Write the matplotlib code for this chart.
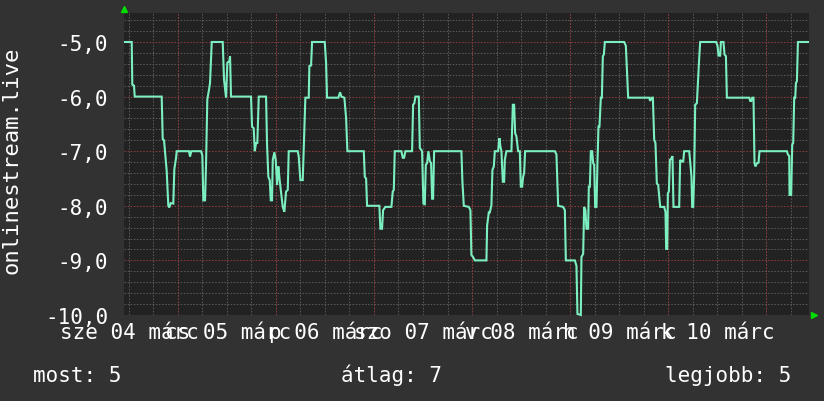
import matplotlib
matplotlib.use("Agg")
import matplotlib.pyplot as plt
import matplotlib.transforms as mtransforms
import numpy as np

# hours since graph start, value
hours = [
    0.24, 1.89, 2.03, 2.45, 2.62, 9.23, 9.48, 9.80, 10.04, 10.46, 10.85, 11.09, 11.44, 12.07,
    12.32, 12.73, 12.91, 15.92, 16.16, 16.48, 18.86, 19.18, 19.42, 19.84, 20.08, 20.40, 20.82,
    21.06, 21.48, 24.17, 24.49, 24.98, 25.30, 25.79, 25.96, 26.20,
    31.10, 31.35, 31.76, 32.01, 32.33, 32.64, 32.99, 34.78, 35.02, 35.34, 35.68, 35.93, 36.24,
    36.42, 36.81, 37.15, 37.47, 37.79, 38.03, 38.38, 38.87, 39.26, 39.67, 40.09, 40.33, 42.54,
    42.78, 43.18, 43.76, 44.08, 44.40, 45.23, 45.38, 45.80, 46.04, 49.15, 49.47, 49.71, 52.48,
    52.90, 53.22, 53.95, 54.37, 54.69,
    58.70, 58.95, 59.27, 59.51, 62.52, 62.77, 63.18, 63.43, 63.99, 65.46, 65.80, 66.05, 66.29,
    67.91, 68.25, 68.57, 68.89, 70.53, 70.78, 71.09, 71.34, 72.17, 72.42, 72.98, 73.30, 73.64,
    73.89, 74.20, 74.52, 74.87, 75.18, 75.43, 75.67, 75.92, 82.60, 82.85, 83.19, 84.42, 84.81,
    85.05,
    85.47, 85.89, 88.73, 88.90, 89.31, 89.56, 89.95, 90.20, 90.54, 90.78, 91.59, 91.91, 92.16,
    92.40, 92.74, 93.06, 93.23, 93.62, 94.85, 95.19, 95.51, 95.76, 96.07, 96.49, 96.90, 97.15,
    97.47, 97.71, 97.96, 98.20, 105.48, 105.87, 106.29, 107.51, 107.93, 108.17, 110.38, 110.77,
    111.01, 111.84, 111.99, 112.41, 112.65, 112.97, 113.22,
    113.63, 113.80, 114.05, 114.29, 114.61, 114.86, 115.10, 115.35, 115.67, 115.91, 116.16,
    116.40, 116.74, 116.99, 117.23, 117.48, 117.72, 122.45, 122.86, 123.11, 123.43, 128.57,
    128.82, 129.14, 129.48, 129.80, 130.11, 130.45, 130.78, 131.27, 132.24, 132.56, 132.73,
    132.98, 133.15, 133.40, 133.64, 134.03, 134.28, 134.52, 135.92, 136.16, 136.58, 136.90,
    137.14, 138.37, 138.61, 138.93, 139.10, 139.35, 139.59, 139.84, 140.25, 140.57, 140.82,
    141.06,
    144.98, 145.30, 145.55, 145.96, 146.13, 146.77, 147.01, 147.36, 147.60, 153.06, 153.31,
    153.55, 153.80, 154.11, 154.36, 154.60, 154.96, 155.34, 155.58, 162.29, 162.54, 162.86,
    162.93, 163.34, 163.59, 163.83, 164.08, 164.33, 164.50, 164.74, 164.99, 167.44,
]
values = [
    -5.0, -5.0, -5.78, -5.8, -6.0, -6.0, -6.78, -6.8, -7.0, -7.37, -8.0, -8.03, -7.95, -7.96,
    -7.33, -7.13, -7.0, -7.0, -7.1, -7.0, -7.0, -7.08, -7.9, -7.9, -7.25, -6.05, -5.87,
    -5.75, -5.0, -5.0, -5.69, -6.02, -5.38, -5.35, -5.26, -6.0,
    -6.0, -6.55, -6.58, -7.0, -6.85, -6.85, -6.0, -6.0, -6.88, -7.47, -7.53, -7.9, -7.9,
    -7.16, -7.02, -7.16, -7.62, -7.28, -7.47, -7.71, -8.02, -8.11, -7.74, -7.71, -7.0, -7.0,
    -7.1, -7.53, -7.53, -6.76, -6.02, -6.02, -5.44, -5.43, -5.0, -5.0, -5.38, -6.02, -6.02,
    -5.92, -6.0, -6.02, -6.39, -7.0,
    -7.0, -7.47, -7.5, -8.0, -8.0, -8.42, -8.42, -8.08, -8.02, -8.02, -7.74, -7.71, -7.0,
    -7.0, -7.12, -7.12, -7.0, -7.0, -6.15, -6.12, -6.0, -6.0, -6.94, -7.0, -7.96, -7.97,
    -7.25, -7.22, -7.0, -7.18, -7.22, -7.87, -7.87, -7.0, -7.0, -7.56, -8.0, -8.02, -8.08,
    -8.9,
    -8.94, -9.0, -9.0, -8.36, -8.12, -8.12, -7.99, -7.34, -7.28, -7.0, -7.0, -6.76, -6.92,
    -7.0, -7.56, -7.56, -7.16, -7.0, -7.0, -6.15, -6.15, -6.67, -6.73, -7.0, -7.0, -7.65,
    -7.65, -7.47, -7.4, -7.0, -7.0, -7.06, -8.0, -8.02, -8.08, -9.0, -9.0, -9.1,
    -9.98, -10.0, -8.94, -8.88, -8.02, -8.08, -8.42,
    -8.42, -7.65, -7.65, -7.0, -7.0, -7.22, -7.25, -8.02, -8.02, -7.22, -6.55,
    -6.55, -6.02, -6.02, -5.26, -5.23, -5.0, -5.0, -5.07, -5.5, -6.02, -6.02,
    -6.08, -6.02, -6.02, -6.79, -6.85, -7.59, -7.62, -8.02, -8.02, -8.11, -8.79,
    -8.79, -7.77, -7.74, -7.16, -7.13, -7.09, -8.02, -8.02, -7.16, -7.19, -7.19,
    -7.0, -7.0, -7.19, -7.47, -8.02, -8.02, -7.44, -6.15, -6.12, -5.66, -5.29,
    -5.0,
    -5.0, -5.07, -5.25, -5.25, -5.0, -5.0, -5.23, -5.26, -6.02, -6.02, -6.08,
    -6.08, -6.02, -6.02, -7.22, -7.28, -7.22, -7.21, -7.0, -7.0, -7.06, -7.09,
    -7.8, -7.8, -6.88, -6.85, -6.02, -6.02, -5.75, -5.72, -5.0, -5.0,
]

day_labels = ["sze 04 márc", "cs 05 márc", "p 06 márc", "szo 07 márc",
              "v 08 márc", "h 09 márc", "k 10 márc"]
label_hours = [1.4, 25.4, 49.4, 73.4, 97.4, 121.4, 145.4]
major_vlines = [13.2, 37.2, 61.2, 85.2, 109.2, 133.2, 157.2]
y_ticks = [-10, -9, -8, -7, -6, -5]
y_tick_labels = ["-10,0", "-9,0", "-8,0", "-7,0", "-6,0", "-5,0"]
y_name = "onlinestream.live"
legend_items = [("most: 5", 33), ("átlag: 7", 341), ("legjobb: 5", 665)]

BG = "#323232"
CANVAS = "#222222"
LINE = "#7CEFC0"
MONO = "DejaVu Sans Mono"

W, H = 824, 402
fig = plt.figure(figsize=(W / 100, H / 100), dpi=100, facecolor=BG)
ax = fig.add_axes([124 / W, 1 - 316 / H, 685 / W, 302 / H])
ax.set_facecolor(CANVAS)

x_max = 167.7
ax.set_xlim(0, x_max)
ax.set_ylim(-10, -4.469)

# grid: minor every 0.2 / 6 h, major (red) every 1 / 24 h
dots = (0, (1.5, 1.5))
for y in np.arange(-10, -4.4, 0.2):
    if abs(y - round(y)) > 0.01:
        ax.axhline(y, color="#585858", lw=0.75, ls=dots, zorder=1)
for y in y_ticks:
    ax.axhline(y, color="#8a3a3a", lw=0.75, ls=dots, zorder=1.5)
for h in np.arange(major_vlines[0] - 12, x_max, 6):
    ax.axvline(h, color="#585858", lw=0.75, ls=dots, zorder=1)
for h in major_vlines:
    ax.axvline(h, color="#8a3a3a", lw=0.75, ls=dots, zorder=1.5)

ax.plot(hours, values, color=LINE, lw=1.5, solid_joinstyle="miter", zorder=3, clip_on=False)

for s in ax.spines.values():
    s.set_visible(False)

ax.set_yticks(y_ticks)
ax.set_yticklabels(y_tick_labels, fontsize=15, family=MONO, color="white")
ax.tick_params(axis="y", length=0, pad=11.5)
ax.set_xticks([])

trans = mtransforms.blended_transform_factory(ax.transData, ax.transAxes)
for h, lab in zip(label_hours, day_labels):
    ax.text(h, -23 / 302, lab, transform=trans, ha="center", va="baseline",
            fontsize=15, family=MONO, color="white", clip_on=False)

# axis arrows
ax.plot([0], [1 + 4 / 302], marker="^", ms=5, color="#00dd00", transform=ax.transAxes,
        clip_on=False, zorder=5)
ax.plot([1 + 5 / 685], [0], marker=">", ms=5, color="#00dd00", transform=ax.transAxes,
        clip_on=False, zorder=5)

fig.text(12 / W, 1 - 160 / H, y_name, rotation=90, ha="center", va="center",
         fontsize=16, family=MONO, color="white")
for txt, xpx in legend_items:
    fig.text(xpx / W, 1 - 382 / H, txt, ha="left", va="baseline",
             fontsize=15, family=MONO, color="white")

fig.savefig("out.png", dpi=100, facecolor=BG)
